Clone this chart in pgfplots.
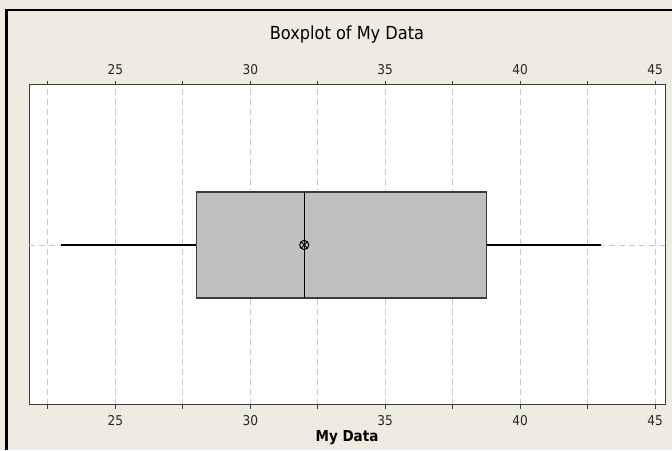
\documentclass[border=0pt]{standalone}
\usepackage{pgfplots}
\pgfplotsset{compat=1.18}
\usepgfplotslibrary{statistics}
\usepackage{fontspec}
\setmainfont{DejaVu Sans Condensed}
\definecolor{bg}{RGB}{238,235,225}
\definecolor{gridc}{RGB}{200,200,200}
\definecolor{boxc}{RGB}{192,192,192}
\definecolor{framec}{RGB}{60,60,60}
\begin{document}
\begin{tikzpicture}
\useasboundingbox (0,0) rectangle (672pt,450pt);
\fill[bg] (0,0) rectangle (672pt,450pt);
\draw[black, line width=2.5pt] (6.5pt,0) -- (6.5pt,440pt) -- (672pt,440pt);
\pgfplotsset{
  common/.style={
    at={(29pt,45pt)}, anchor=south west,
    scale only axis, width=636pt, height=320pt,
    xmin=21.8, xmax=45.37, ymin=0, ymax=2,
    xtick={25,30,35,40,45},
    minor xtick={22.5,27.5,32.5,37.5,42.5},
    ytick=\empty,
    tick align=outside,
    major tick length=4pt, minor tick length=4pt,
    /pgf/number format/assume math mode=true,
  }
}
\begin{axis}[common,
  axis background/.style={fill=white},
  axis line style={draw=framec, line width=1pt},
  xmajorgrids, xminorgrids,
  major grid style={gridc, dash pattern=on 6pt off 4pt, line width=0.9pt},
  minor grid style={gridc, dash pattern=on 6pt off 4pt, line width=0.9pt},
  tick style={framec, line width=0.8pt},
  xticklabel pos=lower,
  xticklabel style={font=\fontsize{13.5}{15}\selectfont, text=black!85, yshift=-3pt},
  boxplot/draw direction=x,
]
\addplot[gridc, dash pattern=on 6pt off 4pt, line width=0.9pt] coordinates {(21.8,1) (45.37,1)};
\addplot[draw=framec, fill=boxc, line width=1.1pt,
  boxplot prepared={lower whisker=23, lower quartile=28, median=32,
    upper quartile=38.75, upper whisker=43, draw position=1,
    box extend=0.6625, whisker extend=0,
    every whisker/.style={black, line width=1.2pt},
    every median/.style={black, line width=1.2pt}}] coordinates {};
\addplot[only marks, mark=otimes, mark size=4.6pt, mark options={black, line width=1pt}] coordinates {(32,1)};
\end{axis}
\begin{axis}[common,
  axis line style={draw=none},
  tick style={draw=none},
  xticklabel pos=upper,
  xticklabel style={font=\fontsize{13.5}{15}\selectfont, text=black!85, yshift=2.5pt},
]
\end{axis}
\node[font=\fontsize{18}{20}\selectfont] at (347pt,415pt) {Boxplot of My Data};
\node[font=\bfseries\fontsize{15}{17}\selectfont] at (347pt,12.5pt) {My Data};
\end{tikzpicture}
\end{document}
